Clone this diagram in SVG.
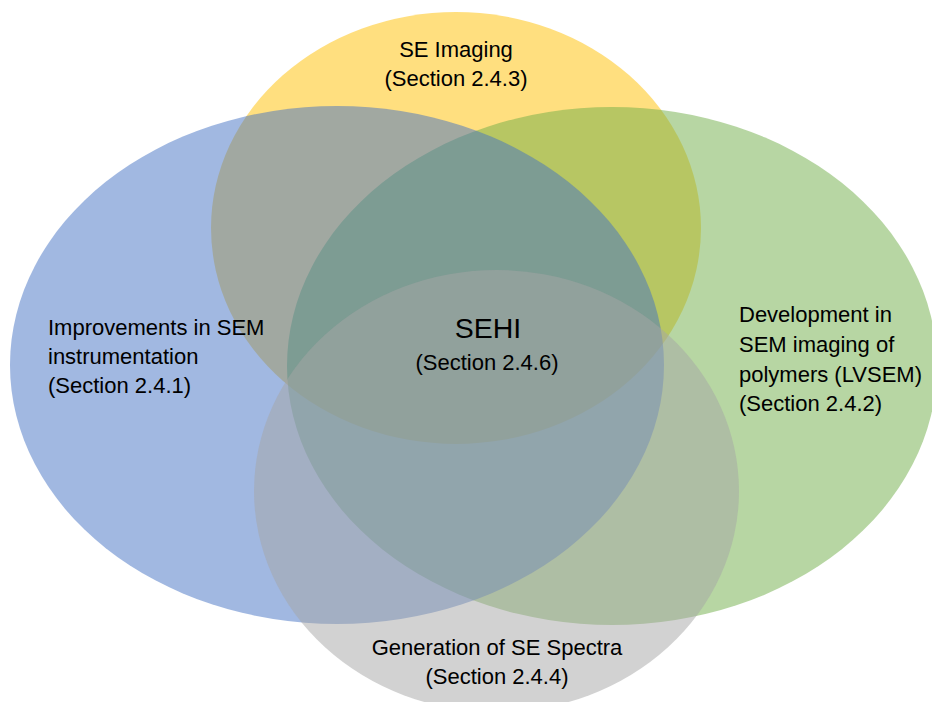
<svg xmlns="http://www.w3.org/2000/svg" width="932" height="702" viewBox="0 0 932 702">
  <style>
    .set { fill-opacity: 0.5; stroke: none; }
    .lbl { font-family: "Liberation Sans", Arial, sans-serif; font-size: 22px; fill: #000; }
    .mid { text-anchor: middle; }
    .big { font-size: 28.5px; }
  </style>
  <rect x="0" y="0" width="932" height="702" fill="#ffffff"/>

  <!-- SE imaging (drawn first, sits beneath the others) -->
  <g id="se-imaging">
    <ellipse class="set" cx="456" cy="228" rx="245" ry="216" fill="#FFC000"/>
    <text class="lbl mid" x="456" y="57">SE Imaging</text>
    <text class="lbl mid" x="456" y="86">(Section 2.4.3)</text>
  </g>

  <!-- LVSEM of polymers -->
  <g id="lvsem-polymers">
    <ellipse class="set" cx="612" cy="366" rx="325" ry="259" fill="#70AD47"/>
    <text class="lbl" x="739" y="322">Development in</text>
    <text class="lbl" x="739" y="352">SEM imaging of</text>
    <text class="lbl" x="739" y="382">polymers (LVSEM)</text>
    <text class="lbl" x="739" y="411">(Section 2.4.2)</text>
  </g>

  <!-- SEM instrumentation -->
  <g id="sem-instrumentation">
    <ellipse class="set" cx="337" cy="365" rx="327" ry="259" fill="#4472C4"/>
    <text class="lbl" x="48" y="335">Improvements in SEM</text>
    <text class="lbl" x="48" y="364">instrumentation</text>
    <text class="lbl" x="48" y="393">(Section 2.4.1)</text>
  </g>

  <!-- SE spectra -->
  <g id="se-spectra">
    <ellipse class="set" cx="496.5" cy="491" rx="242.5" ry="221" fill="#A5A5A5"/>
    <text class="lbl mid" x="497" y="655">Generation of SE Spectra</text>
    <text class="lbl mid" x="497" y="684">(Section 2.4.4)</text>
  </g>

  <!-- central overlap label -->
  <g id="sehi">
    <text class="lbl mid big" x="488" y="338">SEHI</text>
    <text class="lbl mid" x="487" y="370">(Section 2.4.6)</text>
  </g>
</svg>
